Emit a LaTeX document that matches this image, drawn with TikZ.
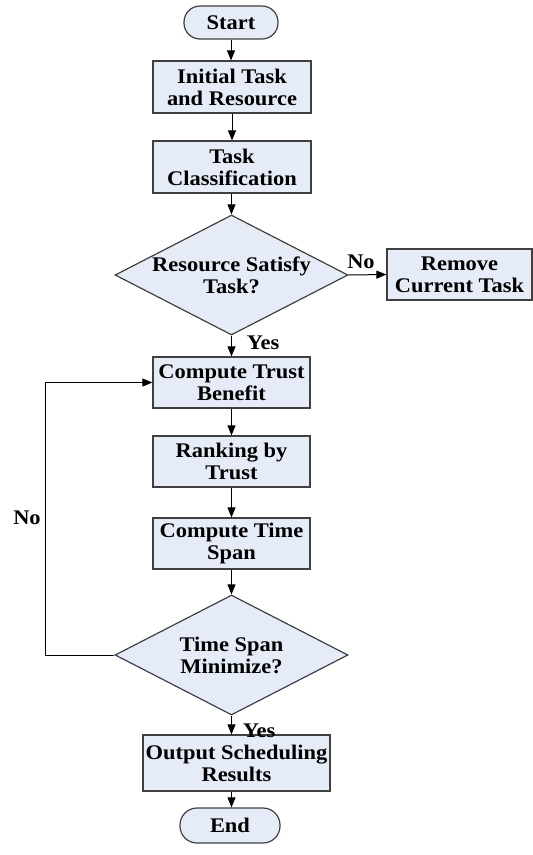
\documentclass[tikz,border=0pt]{standalone}
\usepackage{fontspec}
\setmainfont{Liberation Serif}[FakeStretch=1.08]
\usetikzlibrary{shapes.geometric,arrows.meta}
\definecolor{boxfill}{RGB}{230,236,247}
\definecolor{boxline}{RGB}{64,64,64}
\tikzset{
  base/.style={draw=boxline,line width=1.2pt,fill=boxfill,align=center,inner sep=0pt,
    font=\fontsize{20.8}{22}\selectfont\bfseries},
  procbox/.style={base,rectangle},
  termbox/.style={base,rectangle,rounded corners=16pt},
  decbox/.style={base,diamond,shape aspect=1.94},
  conn/.style={draw=black,line width=1pt,-{Triangle[length=10pt,width=8pt]}},
  lbl/.style={font=\fontsize{20.8}{22}\selectfont\bfseries,inner sep=0pt}
}
\begin{document}
\begin{tikzpicture}[x=1pt,y=-1pt]
\useasboundingbox (0,0) rectangle (533,855);
\node[termbox,minimum width=94pt,minimum height=33pt] (start) at (231,22.5) {Start};
\node[procbox,minimum width=158pt,minimum height=52pt] (init) at (232,87) {Initial Task\\and Resource};
\node[procbox,minimum width=158pt,minimum height=52pt] (cls) at (232,167) {Task\\Classification};
\node[decbox,minimum width=233pt,minimum height=120pt] (d1) at (231.5,275) {Resource Satisfy\\Task?};
\node[procbox,minimum width=145pt,minimum height=51pt] (rem) at (459.5,274.5) {Remove\\Current Task};
\node[procbox,minimum width=157pt,minimum height=51pt] (ctb) at (231.5,382.5) {Compute Trust\\Benefit};
\node[procbox,minimum width=157pt,minimum height=51pt] (rank) at (231.5,461.5) {Ranking by\\Trust};
\node[procbox,minimum width=157pt,minimum height=51pt] (cts) at (231.5,543.5) {Compute Time\\Span};
\node[decbox,minimum width=233pt,minimum height=120pt] (d2) at (231.5,655) {Time Span\\Minimize?};
\node[procbox,minimum width=187pt,minimum height=56pt] (out) at (236.5,763) {Output Scheduling\\Results};
\node[termbox,minimum width=100pt,minimum height=35pt,rounded corners=17pt] (end) at (230,825.5) {End};
\coordinate (lp) at (45,655);

\draw[conn] (start.south) -- (start.south |- init.north);
\draw[conn] (init.south) -- (init.south |- cls.north);
\draw[conn] (cls.south -| d1.north) -- (d1.north);
\draw[conn] (d1.east) -- (rem.west);
\draw[conn] (d1.south) -- (d1.south |- ctb.north);
\draw[conn] (ctb.south) -- (rank.north);
\draw[conn] (rank.south) -- (cts.north);
\draw[conn] (cts.south) -- (d2.north);
\draw[conn] (d2.south) -- (d2.south |- out.north);
\draw[conn] (out.south -| d2.south) -- (d2.south |- end.north);
\draw[conn] (d2.west) -- (lp) |- (ctb.west);

\node[lbl] (no1) at (361,262) {No};
\node[lbl] (yes1) at (263,343) {Yes};
\node[lbl] (no2) at (27,518) {No};
\node[lbl] (yes2) at (259,731) {Yes};
\end{tikzpicture}
\end{document}
